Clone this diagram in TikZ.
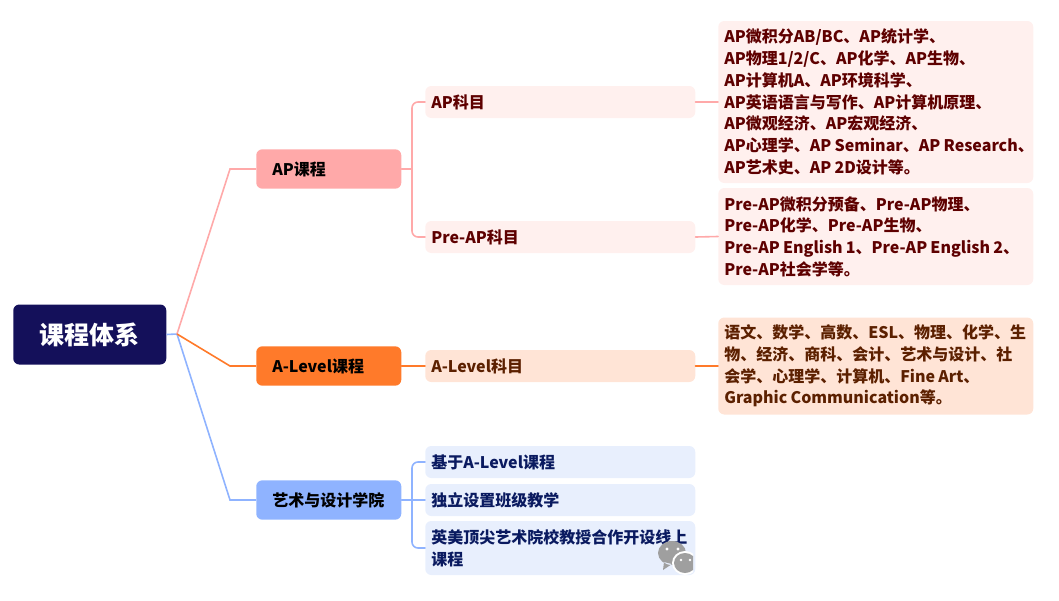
\documentclass[tikz,border=0pt]{standalone}
\usepackage{fontspec}
\setmainfont{Noto Sans CJK SC}
\definecolor{rootblue}{HTML}{14105A}
\definecolor{apred}{HTML}{FFA9A9}
\definecolor{alorange}{HTML}{FF7A2A}
\definecolor{artblue}{HTML}{8FB3FF}
\definecolor{aplight}{HTML}{FFF0EE}
\definecolor{allight}{HTML}{FFE4D6}
\definecolor{artlight}{HTML}{E8EFFD}
\definecolor{aptext}{HTML}{5E0000}
\definecolor{altext}{HTML}{5C2000}
\definecolor{arttext}{HTML}{0A1A60}
\tikzset{
	base/.style={anchor=west, rounded corners=4.5pt, inner xsep=4.5pt, inner ysep=0pt, align=left, font=\fontsize{12}{16.3}\selectfont\bfseries},
	topic/.style={base, text width=84.75pt, inner xsep=12pt, minimum height=29.5pt},
	sub/.style={base, text width=193.5pt, minimum height=24pt},
	leaf/.style={base, text width=227.25pt, execute at begin node={\spaceskip=2.4pt\relax}},
	link/.style={line width=1.2pt, rounded corners=4.5pt, line cap=round}
}
\begin{document}
\begin{tikzpicture}[x=0.75pt,y=-0.75pt]
	\useasboundingbox (0,0) rectangle (1059,600);
	% center
	\node[base, fill=rootblue, text=white, minimum width=114.75pt, minimum height=45pt, align=center, font=\fontsize{18.75}{20}\selectfont\bfseries] (root) at (13,334.5) {课程体系};
	% first level
	\node[topic, fill=apred, text=black] (ap) at (256,169) {AP课程};
	\node[topic, fill=alorange, text=black] (alevel) at (256,366) {A-Level课程};
	\node[topic, fill=artblue, text=black] (art) at (256,500) {艺术与设计学院};
	% second level
	\node[sub, fill=aplight, text=aptext] (apsub) at (425,102) {AP科目};
	\node[sub, fill=aplight, text=aptext] (presub) at (425,237) {Pre-AP科目};
	\node[sub, fill=allight, text=altext] (alsub) at (425,366) {A-Level科目};
	\node[sub, fill=artlight, text=arttext] (artone) at (425,462) {基于A-Level课程};
	\node[sub, fill=artlight, text=arttext] (arttwo) at (425,500) {独立设置班级教学};
	\node[sub, fill=artlight, text=arttext, minimum height=40.5pt] (artthree) at (425,548) {英美顶尖艺术院校教授合作开设线上\\课程};
	% details
	\node[leaf, fill=aplight, text=aptext, minimum height=121.5pt] (apleaf) at (718,102) {AP微积分AB/BC、AP统计学、\\AP物理1/2/C、AP化学、AP生物、\\AP计算机A、AP环境科学、\\AP英语语言与写作、AP计算机原理、\\AP微观经济、AP宏观经济、\\\mbox{AP心理学、AP Seminar、AP Research、}\\AP艺术史、AP 2D设计等。};
	\node[leaf, fill=aplight, text=aptext, minimum height=72.75pt] (preleaf) at (718,236.5) {Pre-AP微积分预备、Pre-AP物理、\\Pre-AP化学、Pre-AP生物、\\\mbox{Pre-AP English 1、Pre-AP English 2、}\\Pre-AP社会学等。};
	\node[leaf, fill=allight, text=altext, minimum height=72.75pt] (alleaf) at (718,366) {语文、数学、高数、ESL、物理、化学、生\\物、经济、商科、会计、艺术与设计、社\\会学、心理学、计算机、Fine Art、\\Graphic Communication等。};
	% joints
	\coordinate (hub) at (177,334);
	\coordinate (apbus) at (412,169);
	\coordinate (artbus) at (412,500);
	\draw[line width=1.2pt, artblue] (root.east) -- (hub) -- (230,500) -- (art.west);
	\draw[line width=1.2pt, apred] (hub) -- (230,169) -- (ap.west);
	\draw[line width=1.2pt, alorange] (hub) -- (230,366) -- (alevel.west);
	\draw[link, apred] (ap.east) -- (apbus);
	\draw[link, apred] (apsub.west) -| (apbus) |- (presub.west);
	\draw[link, apred] (apsub.east) -- (apleaf.west);
	\draw[link, apred] (presub.east) -- (preleaf.west);
	\draw[link, alorange] (alevel.east) -- (alsub.west);
	\draw[link, alorange] (alsub.east) -- (alleaf.west);
	\draw[link, artblue] (art.east) -- (arttwo.west);
	\draw[link, artblue] (artone.west) -| (artbus) |- (artthree.west);
	% chat mark
	\begin{scope}
		\clip (655,535) rectangle (693,575);
		\fill[gray!75] (672,553) ellipse (14 and 12) (664,562) -- (663,570) -- (672,564) -- cycle;
		\fill[white] (685,563) ellipse (13 and 12);
		\fill[gray!75] (685,563) ellipse (11 and 10);
		\fill[white] (667,549) circle (1.6) (678,549) circle (1.6) (681,560) circle (1.3) (690,560) circle (1.3);
	\end{scope}
\end{tikzpicture}
\end{document}
